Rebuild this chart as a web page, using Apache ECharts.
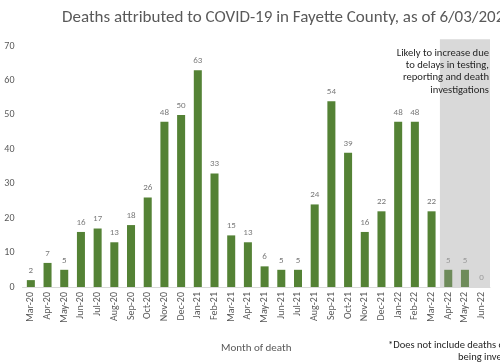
<!DOCTYPE html>
<html><head><meta charset="utf-8">
<script src="https://cdn.jsdelivr.net/npm/echarts@6/dist/echarts.min.js"></script>
<style>html,body{margin:0;padding:0;background:#fff}#c{width:500px;height:362px}</style>
</head><body><div id="c"></div>
<script>
const months = ['Mar-20','Apr-20','May-20','Jun-20','Jul-20','Aug-20','Sep-20','Oct-20','Nov-20','Dec-20','Jan-21','Feb-21','Mar-21','Apr-21','May-21','Jun-21','Jul-21','Aug-21','Sep-21','Oct-21','Nov-21','Dec-21','Jan-22','Feb-22','Mar-22','Apr-22','May-22','Jun-22'];
const deaths = [2,7,5,16,17,13,18,26,48,50,63,33,15,13,6,5,5,24,54,39,16,22,48,48,22,5,5,0];
const provisionalMonths = ['Apr-22','May-22','Jun-22'];
const yTicks = [0,10,20,30,40,50,60,70];
const titleText = 'Deaths attributed to COVID-19 in Fayette County, as of 6/03/2022*';
const noteLines = ['Likely to increase due','to delays in testing,','reporting and death','investigations'];
const footLines = ['*Does not include deaths currently','being investigated'];

const FONT = 'Carlito, "Liberation Sans Narrow", "Liberation Sans"';
const chart = echarts.init(document.getElementById('c'), null, {renderer:'canvas'});
const data = deaths.map((v,i)=>({
  value:v,
  itemStyle:{color: provisionalMonths.includes(months[i]) ? '#6e8b5a' : '#548235'},
  label:{color: provisionalMonths.includes(months[i]) ? '#9a9a9a' : '#7a7a7a'}
}));
chart.setOption({
  animation:false,
  title:{text:titleText,left:62,top:9,padding:0,textStyle:{fontFamily:FONT,fontSize:17,fontWeight:'normal',color:'#595959'}},
  grid:{left:22.5,right:10,top:39.3,bottom:75},
  xAxis:{type:'category',data:months,
    axisLine:{lineStyle:{color:'#d9d9d9'}},axisTick:{show:false},
    axisLabel:{rotate:90,interval:0,fontFamily:FONT,fontSize:10,color:'#595959',margin:5},
    name:'Month of death',nameLocation:'middle',nameGap:56,
    nameTextStyle:{fontFamily:FONT,fontSize:11,color:'#595959'}},
  yAxis:{type:'value',min:0,max:72,interval:10,
    splitLine:{show:false},axisLine:{show:false},axisTick:{show:false},
    axisLabel:{showMaxLabel:false,fontFamily:FONT,fontSize:10,color:'#595959',margin:8}},
  series:[{type:'bar',data:data,barWidth:'48%',z:3,
    label:{show:true,position:'top',fontFamily:FONT,fontSize:9,distance:5}}]
});
function drawOverlay(){
  const c0 = chart.convertToPixel({gridIndex:0},[provisionalMonths[0],0]);
  const c1 = chart.convertToPixel({gridIndex:0},[provisionalMonths[provisionalMonths.length-1],0]);
  const top = chart.convertToPixel({gridIndex:0},[provisionalMonths[0],72]);
  const band = (c1[0]-c0[0])/(provisionalMonths.length-1);
  const x0 = c0[0]-band/2, x1 = c1[0]+band/2;
  const els = [{type:'rect',z:0,silent:true,shape:{x:x0,y:top[1],width:x1-x0,height:c0[1]-top[1]},style:{fill:'#d9d9d9'}}];
  noteLines.forEach((t,i)=>els.push({type:'text',z:10,style:{text:t,x:x1-1,y:53+i*12.4,textAlign:'right',textVerticalAlign:'middle',font:'10.6px '+FONT,fill:'#262626'}}));
  els.push({type:'text',z:10,style:{text:footLines[0],x:388,y:345,textVerticalAlign:'middle',font:'10.5px '+FONT,fill:'#262626'}});
  els.push({type:'text',z:10,style:{text:footLines[1],x:458,y:357,textVerticalAlign:'middle',font:'10.5px '+FONT,fill:'#262626'}});
  chart.setOption({graphic:els});
}
drawOverlay();
</script></body></html>
